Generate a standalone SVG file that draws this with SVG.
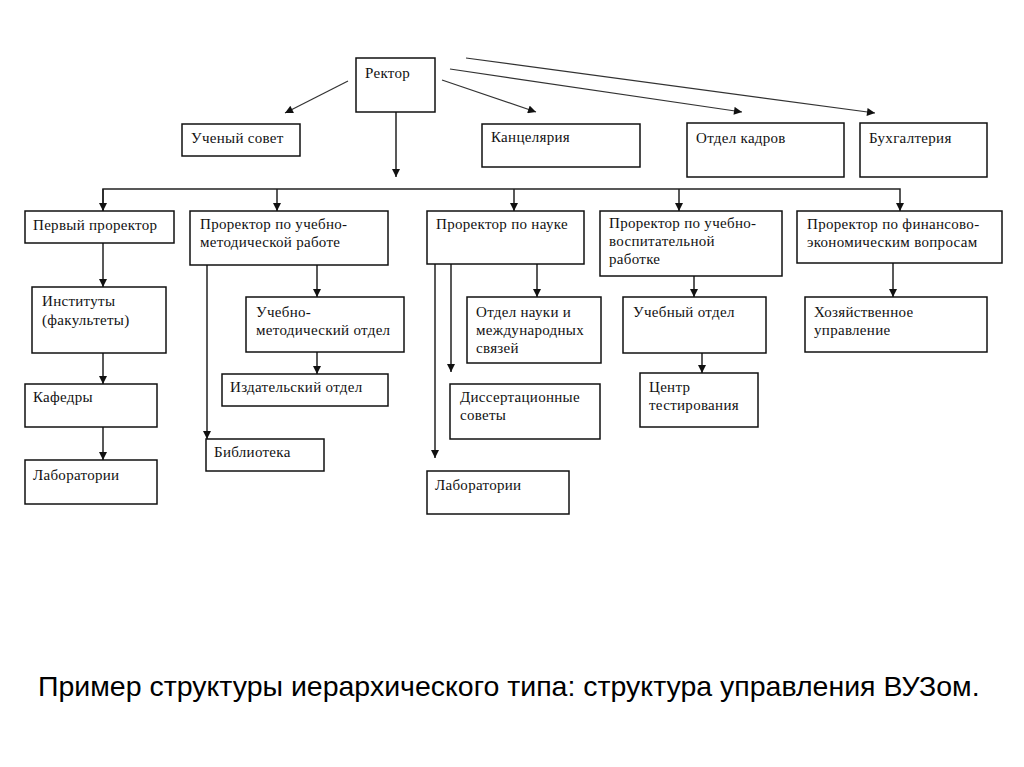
<svg xmlns="http://www.w3.org/2000/svg" width="1024" height="767" viewBox="0 0 1024 767">
<style>
.box{fill:#fff;stroke:#111;stroke-width:1.5}
.t{font-family:"Liberation Serif","DejaVu Serif",serif;font-size:15px;letter-spacing:0.3px;fill:#111}
.c{fill:none;stroke:#222;stroke-width:1.5}
.d{fill:none;stroke:#333;stroke-width:1.2}
.cap{font-family:"Liberation Sans",Arial,sans-serif;font-size:28.5px;fill:#000}
</style>
<defs>
<marker id="ar" viewBox="0 0 10 10" refX="10" refY="5" markerWidth="9" markerHeight="8" markerUnits="userSpaceOnUse" orient="auto">
<path d="M0,0 L10,5 L0,10 z" fill="#111"/>
</marker>
</defs>
<rect width="1024" height="767" fill="#fff"/>

<g id="connectors">
<line class="c" x1="396" y1="112" x2="396" y2="177" marker-end="url(#ar)"/>
<line class="d" x1="348" y1="81" x2="285" y2="113" marker-end="url(#ar)"/>
<line class="d" x1="442" y1="80" x2="536" y2="112" marker-end="url(#ar)"/>
<line class="d" x1="450" y1="69" x2="742" y2="112" marker-end="url(#ar)"/>
<line class="d" x1="466" y1="58" x2="875" y2="113" marker-end="url(#ar)"/>
<polyline class="c" points="103,211 103,189 900,189 900,211" marker-end="url(#ar)"/>
<line class="c" x1="103" y1="189" x2="103" y2="211" marker-end="url(#ar)"/>
<line class="c" x1="277" y1="189" x2="277" y2="211" marker-end="url(#ar)"/>
<line class="c" x1="514" y1="189" x2="514" y2="211" marker-end="url(#ar)"/>
<line class="c" x1="679" y1="189" x2="679" y2="211" marker-end="url(#ar)"/>
<line class="c" x1="103" y1="243" x2="103" y2="287" marker-end="url(#ar)"/>
<line class="c" x1="103" y1="353" x2="103" y2="384" marker-end="url(#ar)"/>
<line class="c" x1="103" y1="427" x2="103" y2="460" marker-end="url(#ar)"/>
<line class="c" x1="317" y1="265" x2="317" y2="297" marker-end="url(#ar)"/>
<line class="c" x1="317" y1="352" x2="317" y2="374" marker-end="url(#ar)"/>
<line class="c" x1="207" y1="265" x2="207" y2="439" marker-end="url(#ar)"/>
<line class="c" x1="537" y1="264" x2="537" y2="297" marker-end="url(#ar)"/>
<line class="c" x1="451" y1="264" x2="451" y2="372" marker-end="url(#ar)"/>
<line class="c" x1="435" y1="264" x2="435" y2="458" marker-end="url(#ar)"/>
<line class="c" x1="694" y1="276" x2="694" y2="297" marker-end="url(#ar)"/>
<line class="c" x1="702" y1="353" x2="702" y2="373" marker-end="url(#ar)"/>
<line class="c" x1="893" y1="263" x2="893" y2="297" marker-end="url(#ar)"/>
</g>

<g id="rector"><rect class="box" x="356" y="58" width="79" height="54"/><text class="t" x="365" y="78">Ректор</text></g>
<g id="uchsovet"><rect class="box" x="182" y="124" width="118" height="32"/><text class="t" x="191" y="143">Ученый совет</text></g>
<g id="kanc"><rect class="box" x="482" y="124" width="158" height="43"/><text class="t" x="491" y="142">Канцелярия</text></g>
<g id="kadry"><rect class="box" x="687" y="123" width="157" height="54"/><text class="t" x="696" y="143">Отдел кадров</text></g>
<g id="buh"><rect class="box" x="860" y="123" width="127" height="54"/><text class="t" x="869" y="143">Бухгалтерия</text></g>

<g id="first"><rect class="box" x="25" y="211" width="149" height="32"/><text class="t" x="33" y="230">Первый проректор</text></g>
<g id="umr"><rect class="box" x="190" y="211" width="198" height="54"/><text class="t" x="200" y="229">Проректор по учебно-</text><text class="t" x="200" y="247">методической работе</text></g>
<g id="nauka"><rect class="box" x="427" y="211" width="157" height="53"/><text class="t" x="436" y="229">Проректор по науке</text></g>
<g id="uvr"><rect class="box" x="600" y="211" width="182" height="65"/><text class="t" x="609" y="228">Проректор по учебно-</text><text class="t" x="609" y="246">воспитательной</text><text class="t" x="609" y="264">работке</text></g>
<g id="fin"><rect class="box" x="797" y="211" width="205" height="52"/><text class="t" x="807" y="229">Проректор по финансово-</text><text class="t" x="807" y="247">экономическим вопросам</text></g>

<g id="inst"><rect class="box" x="32" y="287" width="134" height="66"/><text class="t" x="42" y="306">Институты</text><text class="t" x="42" y="325">(факультеты)</text></g>
<g id="umo"><rect class="box" x="246" y="297" width="158" height="55"/><text class="t" x="256" y="317">Учебно-</text><text class="t" x="256" y="335">методический отдел</text></g>
<g id="onims"><rect class="box" x="467" y="297" width="134" height="66"/><text class="t" x="476" y="317">Отдел науки и</text><text class="t" x="476" y="335">международных</text><text class="t" x="476" y="353">связей</text></g>
<g id="uchotdel"><rect class="box" x="623" y="297" width="143" height="56"/><text class="t" x="633" y="317">Учебный отдел</text></g>
<g id="hoz"><rect class="box" x="805" y="297" width="182" height="55"/><text class="t" x="814" y="317">Хозяйственное</text><text class="t" x="814" y="335">управление</text></g>

<g id="kafedry"><rect class="box" x="25" y="384" width="132" height="43"/><text class="t" x="33" y="402">Кафедры</text></g>
<g id="izd"><rect class="box" x="222" y="374" width="166" height="32"/><text class="t" x="230" y="392">Издательский отдел</text></g>
<g id="disser"><rect class="box" x="450" y="384" width="150" height="55"/><text class="t" x="460" y="402">Диссертационные</text><text class="t" x="460" y="420">советы</text></g>
<g id="centr"><rect class="box" x="640" y="373" width="118" height="54"/><text class="t" x="649" y="392">Центр</text><text class="t" x="649" y="410">тестирования</text></g>

<g id="lab1"><rect class="box" x="25" y="460" width="132" height="44"/><text class="t" x="33" y="480">Лаборатории</text></g>
<g id="bibl"><rect class="box" x="206" y="439" width="118" height="32"/><text class="t" x="214" y="457">Библиотека</text></g>
<g id="lab2"><rect class="box" x="427" y="471" width="142" height="43"/><text class="t" x="435" y="490">Лаборатории</text></g>

<text class="cap" x="38" y="696">Пример структуры иерархического типа: структура управления ВУЗом.</text>
</svg>
